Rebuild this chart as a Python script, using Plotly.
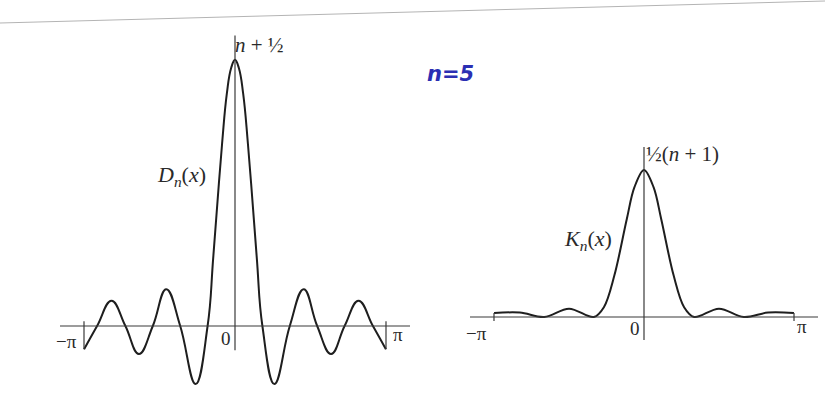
import plotly.graph_objects as go

# Dirichlet kernel D_n(x), n = 5
d_x = [-3.14, -2.87, -2.57, -2.28, -2.0, -1.71, -1.43, -1.14, -0.82, -0.57, -0.45, -0.27, -0.17, -0.08,
       0.0, 0.08, 0.17, 0.27, 0.45, 0.57, 0.82, 1.14, 1.43, 1.71, 2.0, 2.28, 2.57, 2.87, 3.14]
d_y = [-0.48, 0.0, 0.52, 0.0, -0.58, 0.0, 0.76, 0.0, -1.2, 0.0, 1.45, 3.75, 4.8, 5.33,
       5.5, 5.33, 4.8, 3.75, 1.45, 0.0, -1.2, 0.0, 0.76, 0.0, -0.58, 0.0, 0.52, 0.0, -0.48]

# Fejer kernel K_n(x), n = 5
k_x = [-3.14, -2.6, -2.09, -1.57, -1.05, -0.84, -0.62, -0.36, -0.2, 0.0,
       0.2, 0.36, 0.62, 0.84, 1.05, 1.57, 2.09, 2.6, 3.14]
k_y = [0.08, 0.09, 0.0, 0.17, 0.0, 0.2, 0.85, 2.0, 2.65, 3.0,
       2.65, 2.0, 0.85, 0.2, 0.0, 0.17, 0.0, 0.09, 0.08]

PI = 3.14159
tick_labels = ["\u2212\u03c0", "0", "\u03c0"]

W, H = 825, 415
def px(x):
    return x / W
def py(y):
    return 1 - y / H

INK = "#1e1e1e"
AX = "#3a3a3a"
SERIF = "Liberation Serif, DejaVu Serif, serif"

fig = go.Figure()
fig.add_trace(go.Scatter(x=d_x, y=d_y, mode="lines", line=dict(color=INK, width=2, shape="spline", smoothing=1.25),
                         xaxis="x", yaxis="y", showlegend=False, hoverinfo="skip"))
fig.add_trace(go.Scatter(x=k_x, y=k_y, mode="lines", line=dict(color=INK, width=2, shape="spline", smoothing=1.0),
                         xaxis="x2", yaxis="y2", showlegend=False, hoverinfo="skip"))

hidden = dict(showgrid=False, zeroline=False, showticklabels=False, ticks="", showline=False, fixedrange=True)
fig.update_layout(
    width=W, height=H, margin=dict(l=0, r=0, t=0, b=0),
    paper_bgcolor="white", plot_bgcolor="white",
    xaxis=dict(domain=[px(60), px(410)], range=[-3.641, 3.641], **hidden),
    yaxis=dict(domain=[py(395), py(30)], range=[-1.426, 6.116], **hidden),
    xaxis2=dict(domain=[px(470), px(818)], range=[-3.644, 3.644], anchor="y2", **hidden),
    yaxis2=dict(domain=[py(395), py(30)], range=[-1.592, 5.857], anchor="x2", **hidden),
)

shapes = []
# left axes
shapes.append(dict(type="line", xref="x domain", yref="y", x0=0, x1=1, y0=0, y1=0, line=dict(color=AX, width=1.2)))
shapes.append(dict(type="line", xref="x", yref="y", x0=0, x1=0, y0=-0.5, y1=6.0, line=dict(color=AX, width=1.2)))
shapes.append(dict(type="line", xref="x", yref="y", x0=-PI, x1=-PI, y0=0.1, y1=d_y[0], line=dict(color=AX, width=1.2)))
shapes.append(dict(type="line", xref="x", yref="y", x0=PI, x1=PI, y0=0.1, y1=d_y[-1], line=dict(color=AX, width=1.2)))
# right axes
shapes.append(dict(type="line", xref="x2 domain", yref="y2", x0=0, x1=1, y0=0, y1=0, line=dict(color=AX, width=1.2)))
shapes.append(dict(type="line", xref="x2", yref="y2", x0=0, x1=0, y0=-0.47, y1=3.47, line=dict(color=AX, width=1.2)))
shapes.append(dict(type="line", xref="x2", yref="y2", x0=-PI, x1=-PI, y0=-0.08, y1=0.08, line=dict(color=AX, width=1.2)))
shapes.append(dict(type="line", xref="x2", yref="y2", x0=PI, x1=PI, y0=-0.08, y1=0.08, line=dict(color=AX, width=1.2)))
# faint scan edge at the top
shapes.append(dict(type="line", xref="paper", yref="paper", x0=0, x1=1, y0=py(23), y1=py(1),
                   line=dict(color="#b4b4b4", width=1)))
fig.update_layout(shapes=shapes)

def font(size):
    return dict(family=SERIF, size=size, color="#2a2a2a")

ann = []
def A(text, x, y, xa="center", ya="middle", fnt=None):
    ann.append(dict(text=text, x=x, y=y, xref="paper", yref="paper", xanchor=xa, yanchor=ya,
                    showarrow=False, font=fnt or font(19)))

# left plot labels
A(tick_labels[0], px(79), py(341), xa="right", fnt=font(19))
A(tick_labels[1], px(226), py(338), fnt=font(19))
A(tick_labels[2], px(391), py(334), xa="left", fnt=font(19))
A("<i>n</i> + \u00bd", px(233), py(45), xa="left", fnt=font(21))
A("<i>D</i><sub><i>n</i></sub>(<i>x</i>)", px(208), py(176), xa="right", fnt=font(22))
# right plot labels
A(tick_labels[0], px(489), py(333), xa="right", fnt=font(19))
A(tick_labels[1], px(635), py(328), fnt=font(19))
A(tick_labels[2], px(802), py(326), fnt=font(19))
A("\u00bd(<i>n</i> + 1)", px(644), py(154), xa="left", fnt=font(21))
A("<i>K</i><sub><i>n</i></sub>(<i>x</i>)", px(614), py(240), xa="right", fnt=font(22))
# handwritten note
A("<b><i>n=5</i></b>", px(425), py(74), xa="left",
  fnt=dict(family="DejaVu Sans, sans-serif", size=21, color="#2b2fb3"))
fig.update_layout(annotations=ann)

fig.write_html("out.html", config={"displayModeBar": False, "staticPlot": True},
               post_script="document.body.style.margin='0px';document.body.style.padding='0px';")
